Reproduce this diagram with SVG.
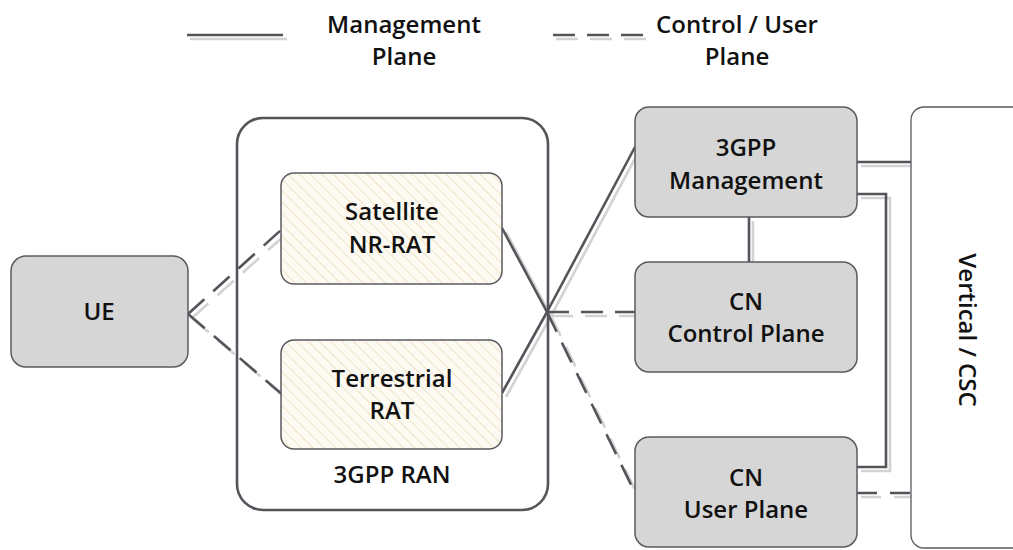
<svg xmlns="http://www.w3.org/2000/svg" width="1013" height="550" viewBox="0 0 1013 550">
<style>
.t{font-family:"Open Sans","Noto Sans",sans-serif;font-weight:600;font-size:24px;fill:#111;text-anchor:middle}
.box{fill:#d6d6d6;stroke:#5a5a60;stroke-width:1.5}
.ln{fill:none;stroke:#55545a;stroke-width:2.6}
.sh{fill:none;stroke:#d2d2d2;stroke-width:2.6}
.d{stroke-dasharray:22 12}
</style>
<defs>
<pattern id="hatch" width="8" height="8" patternUnits="userSpaceOnUse" patternTransform="rotate(-45)">
<rect width="8" height="8" fill="#fcfaf2"/>
<line x1="0" y1="0" x2="0" y2="8" stroke="#efe4c4" stroke-width="2"/>
</pattern>
</defs>
<rect width="1013" height="550" fill="#fff"/>
<g id="legend">
<line class="sh" x1="190" y1="39" x2="287" y2="39"/>
<line class="ln" x1="187" y1="35" x2="283" y2="35"/>
<text class="t" x="404" y="33">Management</text>
<text class="t" x="404" y="65">Plane</text>
<line class="sh d" x1="556" y1="39" x2="649" y2="39"/>
<line class="ln d" x1="553" y1="35" x2="645" y2="35"/>
<text class="t" x="737" y="33">Control / User</text>
<text class="t" x="737" y="65">Plane</text>
</g>
<g id="connectors">
<!-- shadows -->
<polyline class="sh d" points="192,318 285,235"/>
<polyline class="sh d" points="192,318 287,399"/>
<polyline class="sh" points="506,232 551,316"/>
<polyline class="sh" points="506,397 551,316"/>
<polyline class="sh" points="551,316 639,151"/>
<polyline class="sh d" points="551,316 639,316"/>
<polyline class="sh d" points="551,316 640,500"/>
<polyline class="sh" points="753,221 753,266"/>
<polyline class="sh" points="861,166 915,166"/>
<polyline class="sh" points="861,198 890,198 890,471 861,471"/>
<polyline class="sh d" points="861,497 915,497" style="stroke-dasharray:20 13"/>
<!-- lines -->
<polyline class="ln d" points="188,314 281,230"/>
<polyline class="ln d" points="188,314 283,395"/>
<polyline class="ln" points="502,228 547,312"/>
<polyline class="ln" points="502,393 547,312"/>
<polyline class="ln" points="547,312 635,147"/>
<polyline class="ln d" points="547,312 635,312"/>
<polyline class="ln d" points="547,312 637,497"/>
<polyline class="ln" points="749,217 749,262"/>
<polyline class="ln" points="857,162 911,162"/>
<polyline class="ln" points="857,194 886,194 886,467 857,467"/>
<polyline class="ln d" points="857,493 911,493" style="stroke-dasharray:20 13"/>
</g>
<g id="ran">
<rect x="237" y="118" width="311" height="392" rx="26" fill="none" stroke="#55545a" stroke-width="2.6"/>
<text class="t" x="392" y="483">3GPP RAN</text>
</g>
<g id="ue">
<rect class="box" x="11" y="256" width="177" height="111" rx="15"/>
<text class="t" x="99" y="320">UE</text>
</g>
<g id="satellite">
<rect x="281" y="173" width="221" height="111" rx="13" fill="url(#hatch)" stroke="#5a5a60" stroke-width="1.5"/>
<text class="t" x="392" y="220">Satellite</text>
<text class="t" x="392" y="253">NR-RAT</text>
</g>
<g id="terrestrial">
<rect x="281" y="340" width="221" height="109" rx="13" fill="url(#hatch)" stroke="#5a5a60" stroke-width="1.5"/>
<text class="t" x="392" y="387">Terrestrial</text>
<text class="t" x="392" y="419">RAT</text>
</g>
<g id="mgmt">
<rect class="box" x="635" y="107" width="222" height="110" rx="14"/>
<text class="t" x="746" y="156">3GPP</text>
<text class="t" x="746" y="189">Management</text>
</g>
<g id="cncp">
<rect class="box" x="635" y="262" width="222" height="110" rx="14"/>
<text class="t" x="746" y="310">CN</text>
<text class="t" x="746" y="342">Control Plane</text>
</g>
<g id="cnup">
<rect class="box" x="635" y="437" width="222" height="110" rx="14"/>
<text class="t" x="746" y="486">CN</text>
<text class="t" x="746" y="518">User Plane</text>
</g>
<g id="vertical">
<rect x="911" y="107" width="120" height="441" rx="13" fill="#fff" stroke="#5a5a60" stroke-width="1.3"/>
<text class="t" transform="translate(959,330) rotate(90)" x="0" y="0">Vertical / CSC</text>
</g>
</svg>
